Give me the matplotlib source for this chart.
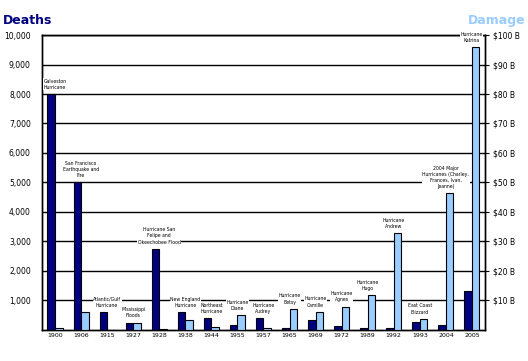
import matplotlib
matplotlib.use("Agg")
import matplotlib.pyplot as plt
import numpy as np

years = ["1900", "1906", "1915", "1927", "1928", "1938", "1944", "1955", "1957",
         "1965", "1969", "1972", "1989", "1992", "1993", "2004", "2005"]
deaths = [8000, 5000, 600, 250, 2750, 600, 390, 180, 390,
          75, 340, 130, 70, 60, 280, 180, 1330]
damage = [0.7, 6.1, 0.0, 2.2, 0.2, 3.4, 1.0, 5.0, 0.7,
          7.2, 6.2, 7.9, 11.7, 32.8, 3.8, 46.3, 95.8]
events = ["Galveston\nHurricane",
          "San Francisco\nEarthquake and\nFire",
          "Atlantic/Gulf\nHurricane",
          "Mississippi\nFloods",
          "Hurricane San\nFelipe and\nOkeechobee Flood",
          "New England\nHurricane",
          "Northeast\nHurricane",
          "Hurricane\nDiane",
          "Hurricane\nAudrey",
          "Hurricane\nBetsy",
          "Hurricane\nCamille",
          "Hurricane\nAgnes",
          "Hurricane\nHugo",
          "Hurricane\nAndrew",
          "East Coast\nBlizzard",
          "2004 Major\nHurricanes (Charley,\nFrances, Ivan,\nJeanne)",
          "Hurricane\nKatrina"]
death_ticks = [1000, 2000, 3000, 4000, 5000, 6000, 7000, 8000, 9000, 10000]
damage_ticks = [10, 20, 30, 40, 50, 60, 70, 80, 90, 100]

navy = "#000080"
light = "#99CCFF"

fig = plt.figure(figsize=(5.28, 3.61), dpi=100)
ax = fig.add_axes([0.0795, 0.086, 0.839, 0.817])
ax2 = ax.twinx()

x = np.arange(len(years))
w = 0.29
ax.bar(x - w / 2, deaths, width=w, color=navy, edgecolor="black", linewidth=0.8, zorder=3)
ax2.bar(x + w / 2, damage, width=w, color=light, edgecolor="black", linewidth=0.8, zorder=3)

ax.set_xlim(-0.5, len(years) - 0.5)
ax.set_ylim(0, 10000)
ax2.set_ylim(0, 100)

ax.set_yticks(death_ticks)
ax.set_yticklabels([f"{v:,}" for v in death_ticks], fontsize=5.5)
ax2.set_yticks(damage_ticks)
ax2.set_yticklabels([f"${v} B" for v in damage_ticks], fontsize=5.5)
ax.set_xticks(x)
ax.set_xticklabels(years, fontsize=4.5)

ax.yaxis.grid(True, color="black", linewidth=1.0, zorder=0)
ax.set_axisbelow(True)
ax.tick_params(axis="y", length=0, pad=8)
ax2.tick_params(axis="y", length=3, width=0.8, pad=3)
ax.tick_params(axis="x", length=0, pad=2)
for a in (ax, ax2):
    for s in a.spines.values():
        s.set_linewidth(1.0)
        s.set_color("black")

# annotations above the taller bar of each group (in pixel terms)
for i in range(len(years)):
    top_frac = max(deaths[i] / 10000, damage[i] / 100)
    ax2.annotate(events[i], xy=(x[i], top_frac * 100), xytext=(0, 3),
                 textcoords="offset points", ha="center", va="bottom",
                 fontsize=3.3, linespacing=1.3, zorder=5,
                 bbox=dict(facecolor="white", edgecolor="none", pad=0.3))

fig.text(0.005, 0.925, "Deaths", color=navy, fontsize=9, fontweight="bold", ha="left", va="bottom")
fig.text(0.995, 0.925, "Damage", color=light, fontsize=9, fontweight="bold", ha="right", va="bottom")

fig.savefig("out.png", dpi=100)
